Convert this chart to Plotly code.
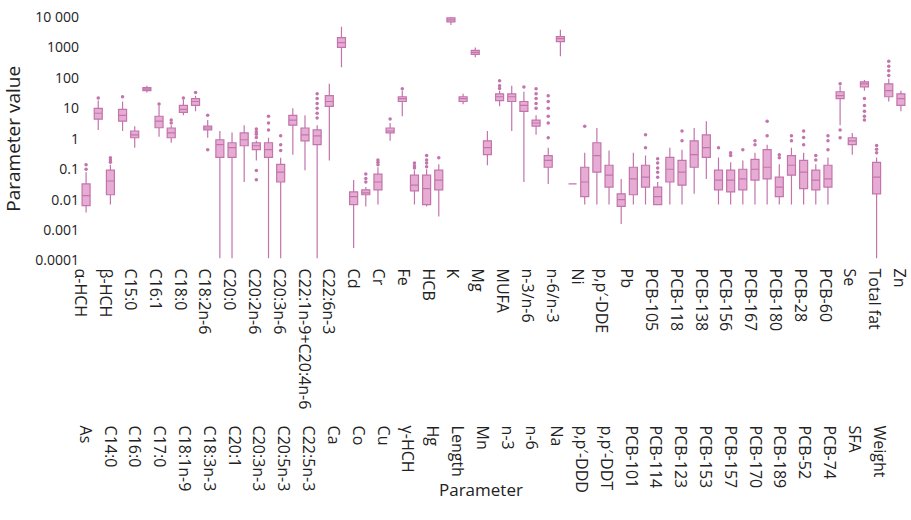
import plotly.graph_objects as go

# Parameters in plotting order (PUFA is drawn but carries no tick label)
categories = [
    "α-HCH", "As", "β-HCH", "C14:0", "C15:0", "C16:0", "C16:1", "C17:0", "C18:0",
    "C18:1n-9", "C18:2n-6", "C18:3n-3", "C20:0", "C20:1", "C20:2n-6", "C20:3n-3",
    "C20:3n-6", "C20:5n-3", "C22:1n-9+C20:4n-6", "C22:5n-3", "C22:6n-3", "Ca", "Cd",
    "Co", "Cr", "Cu", "Fe", "γ-HCH", "HCB", "Hg", "K", "Length", "Mg", "Mn", "MUFA",
    "n-3", "n-3/n-6", "n-6", "n-6/n-3", "Na", "Ni", "p,p′-DDD", "p,p′-DDE", "p,p′-DDT",
    "Pb", "PCB-101", "PCB-105", "PCB-114", "PCB-118", "PCB-123", "PCB-138", "PCB-153",
    "PCB-156", "PCB-157", "PCB-167", "PCB-170", "PCB-180", "PCB-189", "PCB-28",
    "PCB-52", "PCB-60", "PCB-74", "PUFA", "Se", "SFA", "Total fat", "Weight", "Zn",
]

q1 = [0.0064, 4.4, 0.0145, 3.8, 1.08, 38, 2.3, 1.08, 7.4, 12.5, 1.95, 0.244, 0.244,
      0.59, 0.44, 0.244, 0.038, 2.8, 0.86, 0.64, 11.6, 1000, 0.0069, 0.0145, 0.021,
      1.56, 16.8, 0.0195, 0.0069, 0.021, 6900, 16.8, 590, 0.30, 18, 16.8, 8, 2.6,
      0.116, 1560, 0.033, 0.0125, 0.08, 0.026, 0.006, 0.0145, 0.026, 0.0069, 0.038,
      0.03, 0.116, 0.244, 0.021, 0.018, 0.021, 0.044, 0.048, 0.0125, 0.064, 0.023,
      0.021, 0.026, 21, 0.64, 51, 0.0156, 24, 12.5]

median = [0.0135, 6.9, 0.041, 5.9, 1.35, 43, 3.8, 1.56, 9.3, 16.8, 2.26, 0.64, 0.51,
          0.93, 0.59, 0.44, 0.08, 4.1, 1.35, 1.25, 16.8, 1450, 0.0125, 0.0168, 0.038,
          1.8, 21, 0.03, 0.023, 0.044, 8000, 21, 690, 0.51, 24, 24, 12.5, 3.3, 0.195,
          1950, 0.033, 0.038, 0.28, 0.064, 0.01, 0.048, 0.055, 0.0125, 0.1, 0.08, 0.3,
          0.51, 0.044, 0.044, 0.048, 0.1, 0.116, 0.026, 0.135, 0.08, 0.044, 0.048, 26,
          0.86, 64, 0.055, 38, 21]

q3 = [0.033, 10, 0.093, 9.3, 1.8, 48, 5.5, 2.26, 12.5, 21, 2.6, 0.93, 0.74, 1.56,
      0.74, 0.74, 0.145, 5.9, 2.26, 1.95, 26, 2100, 0.018, 0.021, 0.069, 2.26, 24,
      0.064, 0.064, 0.093, 9300, 24, 800, 0.86, 30, 30, 16.8, 4.1, 0.28, 2250, 0.033,
      0.116, 0.74, 0.135, 0.0156, 0.116, 0.135, 0.026, 0.244, 0.195, 0.86, 1.35,
      0.093, 0.093, 0.1, 0.21, 0.44, 0.055, 0.28, 0.195, 0.093, 0.135, 35, 1.08, 74,
      0.168, 64, 30]

upper = [0.08, 18, 0.14, 16.8, 2.6, 55, 12.5, 2.8, 19.5, 26, 4.1, 1.8, 1.6, 2.8,
         0.86, 1.08, 0.24, 10, 5.9, 2.8, 64, 4800, 0.044, 0.026, 0.116, 3.3, 38,
         0.093, 0.1, 0.145, 11500, 30, 1000, 1.8, 38, 55, 35, 5.9, 0.51, 3800, 0.033,
         0.35, 2.26, 0.41, 0.048, 0.35, 0.28, 0.038, 0.51, 0.44, 2.26, 3.8, 0.244,
         0.17, 0.195, 0.35, 0.64, 0.145, 0.51, 0.35, 0.145, 0.244, 55, 1.56, 85,
         0.244, 93, 38]

lower = [0.0038, 1.95, 0.0069, 1.8, 0.51, 33, 1.16, 0.74, 5.9, 8, 1.08, 0.00012,
         0.00012, 0.038, 0.195, 0.00012, 0.00012, 0.3, 0.093, 0.00012, 0.195, 225,
         0.00026, 0.006, 0.0069, 0.86, 5.5, 0.0069, 0.006, 0.0028, 5500, 13.5, 475,
         0.135, 11.6, 1.8, 0.038, 1.35, 0.033, 510, 0.033, 0.0069, 0.0069, 0.0069,
         0.0016, 0.0069, 0.0069, 0.0069, 0.0069, 0.0069, 0.0156, 0.048, 0.0069,
         0.0069, 0.0069, 0.0069, 0.0069, 0.0069, 0.0069, 0.0069, 0.0069, 0.0069, 2.8,
         0.3, 38, 0.00012, 16.8, 8]

outliers = [
    [0.1, 0.14], [22], [0.17, 0.2, 0.24], [24], [], [], [14], [3.3, 4.1], [22], [33],
    [5.9, 0.44], [], [], [], [1.1, 1.4, 1.7, 2.1, 0.09, 0.045], [1.95, 3.3, 5.5],
    [0.41, 0.64, 1.25], [], [], [4.8, 6.9, 10, 14.5, 21, 30], [], [], [],
    [0.038, 0.05, 0.07], [0.14, 0.17, 0.2], [4.5], [44], [0.11, 0.13, 0.16],
    [0.12, 0.16, 0.2, 0.28], [0.24], [], [], [], [], [45, 55, 80], [], [50],
    [10, 14.5, 21, 30, 44], [1.08, 3.3, 5.5, 10, 16.8, 26], [], [], [2.6], [], [], [],
    [], [0.51, 1.35], [0.055, 0.08, 0.11, 0.16, 0.22], [], [0.86, 1.8], [], [], [0.51],
    [0.28, 0.35], [0.44], [0.64, 0.86], [1.25, 3.8], [0.24, 0.3], [0.86, 1.25],
    [0.64, 1.1, 1.8], [0.2, 0.28], [0.44, 0.86, 1.25], [1.08, 1.95, 64], [],
    [4.1, 5.5, 8, 12.5, 21], [0.35, 0.45, 0.6], [120, 170, 240, 350], [],
]

# Axis labels, staggered over two rows
top_labels = [
    "α-HCH", "β-HCH", "C15:0", "C16:1", "C18:0", "C18:2n-6", "C20:0", "C20:2n-6",
    "C20:3n-6", "C22:1n-9+C20:4n-6", "C22:6n-3", "Cd", "Cr", "Fe", "HCB", "K", "Mg",
    "MUFA", "n-3/n-6", "n-6/n-3", "Ni", "p,p′-DDE", "Pb", "PCB-105", "PCB-118",
    "PCB-138", "PCB-156", "PCB-167", "PCB-180", "PCB-28", "PCB-60", "Se", "Total fat",
    "Zn",
]
bottom_labels = [
    "As", "C14:0", "C16:0", "C17:0", "C18:1n-9", "C18:3n-3", "C20:1", "C20:3n-3",
    "C20:5n-3", "C22:5n-3", "Ca", "Co", "Cu", "γ-HCH", "Hg", "Length", "Mn", "n-3",
    "n-6", "Na", "p,p′-DDD", "p,p′-DDT", "PCB-101", "PCB-114", "PCB-123", "PCB-153",
    "PCB-157", "PCB-170", "PCB-189", "PCB-52", "PCB-74", "SFA", "Weight",
]

y_tickvals = [1e-4, 1e-3, 1e-2, 1e-1, 1, 10, 100, 1000, 10000]
y_ticktext = ["0.0001", "0.001", "0.01", "0.1", "1", "10", "100", "1000", "10 000"]

LINE = "#c274ab"
FILL = "#e6acd4"
FONT = "Open Sans"

# geometry (pixels)
W, H = 911, 520
ML, MR, MT, MB = 80, 1, 17, 0
plot_w = W - ML - MR
paper_h = H - MT - MB
plot_bottom_px = 265
row2_px = 432
label_step = 12.45
top_first_px = 80.5
bottom_first_px = 85.0

y_dom0 = (H - plot_bottom_px) / paper_h

fig = go.Figure()

fig.add_trace(go.Box(
    x=categories, q1=q1, median=median, q3=q3,
    lowerfence=lower, upperfence=upper,
    boxpoints=False, width=0.66, whiskerwidth=0,
    line=dict(color=LINE, width=1.2), fillcolor=FILL,
    showlegend=False, hoverinfo="skip",
))

ox, oy = [], []
for cat, vals in zip(categories, outliers):
    for v in vals:
        ox.append(cat)
        oy.append(v)
fig.add_trace(go.Scatter(
    x=ox, y=oy, mode="markers",
    marker=dict(size=3.5, color=LINE),
    showlegend=False, hoverinfo="skip",
))

# carrier traces so the label axes are rendered
fig.add_trace(go.Scatter(x=[None], y=[None], xaxis="x2", showlegend=False, hoverinfo="skip"))
fig.add_trace(go.Scatter(x=[None], y=[None], xaxis="x3", showlegend=False, hoverinfo="skip"))

n_lab = len(top_labels) + len(bottom_labels)
top_k = list(range(0, n_lab, 2))
bot_k = list(range(1, n_lab, 2))


def k_range(first_px, first_k):
    lo = (ML - first_px) / label_step + first_k
    hi = (ML + plot_w - first_px) / label_step + first_k
    return [lo, hi]


common_x = dict(showgrid=False, zeroline=False, showline=False, ticks="",
                tickangle=90, ticklabeloverflow="allow",
                tickfont=dict(family=FONT, size=16, color="#222"))

fig.update_layout(
    width=W, height=H,
    margin=dict(l=ML, r=MR, t=MT, b=MB),
    paper_bgcolor="white", plot_bgcolor="white",
    font=dict(family=FONT, color="#222"),
    xaxis=dict(type="category", categoryorder="array", categoryarray=categories,
               range=[-0.5, len(categories) - 0.5], showticklabels=False,
               showgrid=False, zeroline=False, showline=False, ticks=""),
    xaxis3=dict(overlaying="x", anchor="y", side="bottom", type="linear",
                range=k_range(top_first_px, 0), tickmode="array",
                tickvals=top_k, ticktext=top_labels, ticklabelstandoff=7, **common_x),
    xaxis2=dict(overlaying="x", anchor="free", side="bottom", type="linear",
                position=(H - row2_px) / paper_h,
                range=k_range(bottom_first_px, 1), tickmode="array",
                tickvals=bot_k, ticktext=bottom_labels, **common_x),
    yaxis=dict(type="log", range=[-4, 4], domain=[y_dom0, 1],
               tickmode="array", tickvals=y_tickvals, ticktext=y_ticktext,
               tickfont=dict(family=FONT, size=14, color="#222"),
               showgrid=False, zeroline=False, showline=False, ticks="",
               title=dict(text="Parameter value", font=dict(family=FONT, size=19, color="#222"),
                          standoff=12)),
    annotations=[dict(text="Parameter", xref="paper", yref="paper",
                      x=(482 - ML) / plot_w, y=(H - 498) / paper_h,
                      xanchor="center", yanchor="middle", showarrow=False,
                      font=dict(family=FONT, size=17, color="#222"))],
)

fig.write_html("out.html")
